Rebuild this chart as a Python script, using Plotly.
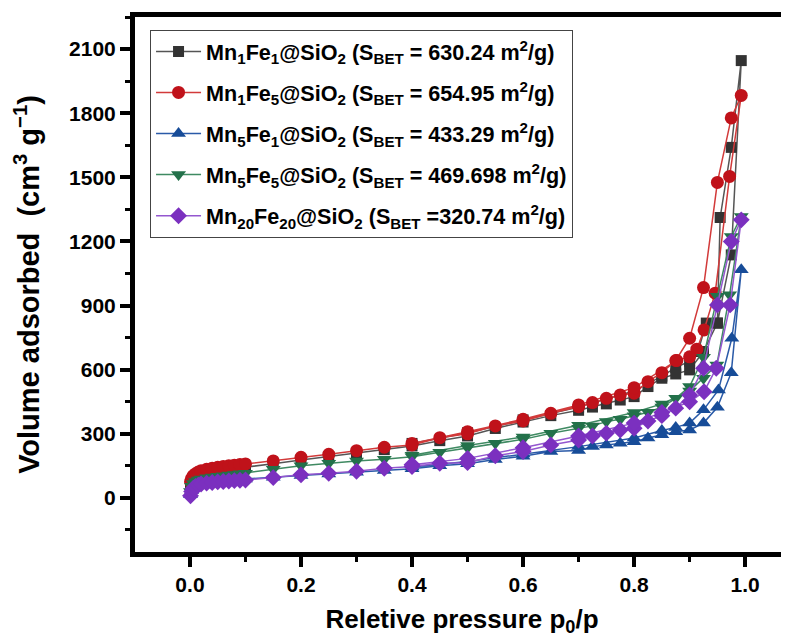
import plotly.graph_objects as go

# Relative pressure for the adsorption branch (shared)
p_ads = [0.001, 0.003, 0.006, 0.01, 0.015, 0.02, 0.03, 0.04, 0.05, 0.06, 0.07, 0.08, 0.09, 0.1,
         0.15, 0.2, 0.25, 0.3, 0.35, 0.4, 0.45, 0.5, 0.55, 0.6, 0.65, 0.7, 0.725, 0.75, 0.775,
         0.8, 0.825, 0.85, 0.875, 0.9, 0.925, 0.95, 0.975, 0.993]

# Mn1Fe1@SiO2
mn1fe1_ads = [65, 80, 92, 100, 107, 112, 118, 123, 127, 131, 134, 137, 140, 143,
              160, 177, 193, 208, 226, 243, 268, 290, 325, 355, 385, 410, 425, 440, 458,
              474, 521, 560, 580, 599, 685, 818, 1137, 2046]
mn1fe1_des_p = [0.975, 0.955, 0.95, 0.93, 0.915, 0.9, 0.875, 0.85, 0.8, 0.7, 0.6, 0.5, 0.4]
mn1fe1_des = [1640, 1312, 818, 818, 685, 640, 610, 570, 500, 425, 365, 305, 255]

# Mn1Fe5@SiO2
mn1fe5_ads = [76, 92, 104, 113, 121, 127, 134, 139, 143, 147, 150, 153, 156, 159,
              173, 190, 204, 221, 237, 248, 282, 300, 337, 360, 396, 427, 446, 466, 482,
              490, 544, 586, 643, 747, 984, 1476, 1778, 1883]
mn1fe5_des_p = [0.972, 0.946, 0.926, 0.913, 0.9, 0.877, 0.8, 0.7, 0.6, 0.5, 0.4]
mn1fe5_des = [1504, 958, 786, 696, 660, 643, 516, 435, 368, 310, 255]

# Mn5Fe1@SiO2
mn5fe1_ads = [15, 35, 48, 56, 62, 66, 71, 75, 78, 81, 83, 85, 87, 89,
              97, 105, 112, 120, 128, 136, 150, 160, 180, 195, 217, 222, 240, 248, 256,
              263, 280, 295, 310, 318, 350, 424, 586, 1067]
mn5fe1_des_p = [0.976, 0.952, 0.925, 0.9, 0.875, 0.85, 0.8, 0.7, 0.6, 0.5, 0.4]
mn5fe1_des = [747, 505, 412, 350, 330, 315, 280, 240, 205, 170, 145]

# Mn5Fe5@SiO2
mn5fe5_ads = [30, 55, 68, 77, 84, 89, 94, 98, 101, 104, 107, 110, 113, 116,
              134, 150, 162, 173, 181, 193, 214, 235, 256, 274, 303, 326, 337, 357, 368,
              384, 401, 425, 466, 521, 658, 943, 1223, 1317]
mn5fe5_des_p = [0.972, 0.949, 0.925, 0.9, 0.85, 0.8, 0.7, 0.6, 0.5, 0.4]
mn5fe5_des = [950, 622, 560, 500, 440, 400, 340, 285, 245, 200]

# Mn20Fe20@SiO2
mn20fe20_ads = [10, 30, 45, 54, 60, 65, 69, 72, 75, 77, 79, 81, 83, 84,
                95, 108, 115, 125, 139, 147, 162, 165, 197, 217, 248, 271, 290, 303, 318,
                326, 360, 385, 420, 482, 607, 903, 1200, 1301]
mn20fe20_des_p = [0.973, 0.948, 0.926, 0.9, 0.85, 0.8, 0.7, 0.6, 0.5, 0.4]
mn20fe20_des = [903, 607, 497, 450, 400, 350, 290, 235, 185, 155]

x_ticks = [0.0, 0.2, 0.4, 0.6, 0.8, 1.0]
y_ticks = [0, 300, 600, 900, 1200, 1500, 1800, 2100]

series = [
    ("<b>Mn<sub>1</sub>Fe<sub>1</sub>@SiO<sub>2</sub> (S<sub>BET</sub> = 630.24 m<sup>2</sup>/g)</b>",
     mn1fe1_ads, mn1fe1_des_p, mn1fe1_des, "#333333", "#555555", "square", 11),
    ("<b>Mn<sub>1</sub>Fe<sub>5</sub>@SiO<sub>2</sub> (S<sub>BET</sub> = 654.95 m<sup>2</sup>/g)</b>",
     mn1fe5_ads, mn1fe5_des_p, mn1fe5_des, "#c0121a", "#d23a3a", "circle", 13),
    ("<b>Mn<sub>5</sub>Fe<sub>1</sub>@SiO<sub>2</sub> (S<sub>BET</sub> = 433.29 m<sup>2</sup>/g)</b>",
     mn5fe1_ads, mn5fe1_des_p, mn5fe1_des, "#174c98", "#2a5aa8", "triangle-up", 13),
    ("<b>Mn<sub>5</sub>Fe<sub>5</sub>@SiO<sub>2</sub> (S<sub>BET</sub> = 469.698 m<sup>2</sup>/g)</b>",
     mn5fe5_ads, mn5fe5_des_p, mn5fe5_des, "#23714a", "#3f8a62", "triangle-down", 13),
    ("<b>Mn<sub>20</sub>Fe<sub>20</sub>@SiO<sub>2</sub> (S<sub>BET</sub> =320.74 m<sup>2</sup>/g)</b>",
     mn20fe20_ads, mn20fe20_des_p, mn20fe20_des, "#7b30bf", "#9457cf", "diamond", 13),
]

fig = go.Figure()
for i, (name, ads, des_p, des, mcol, lcol, sym, msz) in enumerate(series):
    fig.add_trace(go.Scatter(
        x=p_ads + des_p, y=ads + des, name=name, mode="lines+markers",
        legendgroup=f"g{i}",
        line=dict(color=lcol, width=1.5),
        marker=dict(symbol=sym, size=msz, color=mcol, line=dict(width=0)),
    ))

# The page body has an 8px default margin, so the figure is 8px smaller and offset.
font_family = "Liberation Sans, Arial, sans-serif"
fig.update_layout(
    width=781, height=629,
    margin=dict(l=127, r=0, t=9, b=85, autoexpand=False),
    paper_bgcolor="white", plot_bgcolor="white",
    font=dict(family=font_family, color="black"),
    showlegend=True,
    legend=dict(
        x=0.023, y=0.976, xanchor="left", yanchor="top",
        bgcolor="white", bordercolor="#444444", borderwidth=1,
        font=dict(size=21.6, family=font_family, color="black"),
        itemwidth=45, tracegroupgap=10,
    ),
    xaxis=dict(
        range=[-0.099, 1.079], tickvals=x_ticks, ticktext=[f"{v:.1f}" for v in x_ticks],
        showline=True, linecolor="black", linewidth=5, mirror=True, automargin=False,
        ticks="outside", ticklen=10, tickwidth=4, tickcolor="black",
        minor=dict(dtick=0.1, tick0=0, ticks="outside", ticklen=5, tickwidth=3, tickcolor="black"),
        showgrid=False, zeroline=False,
        tickfont=dict(size=21, family=font_family, weight="bold"),
        title=dict(text="<b>Reletive pressure p<sub>0</sub>/p</b>", font=dict(size=26, family=font_family), standoff=16),
    ),
    yaxis=dict(
        range=[-253, 2250], tickvals=y_ticks, ticktext=[str(v) for v in y_ticks],
        showline=True, linecolor="black", linewidth=5, mirror=False, automargin=False,
        ticks="outside", ticklen=10, tickwidth=4, tickcolor="black",
        minor=dict(dtick=150, tick0=0, ticks="outside", ticklen=5, tickwidth=3, tickcolor="black"),
        showgrid=False, zeroline=False,
        tickfont=dict(size=21, family=font_family, weight="bold"),
        title=dict(text="<b>Volume adsorbed  (cm<sup>3</sup> g<sup>\u22121</sup>)</b>", font=dict(size=29, family=font_family), standoff=22),
    ),
)

fig.write_html("out.html")
